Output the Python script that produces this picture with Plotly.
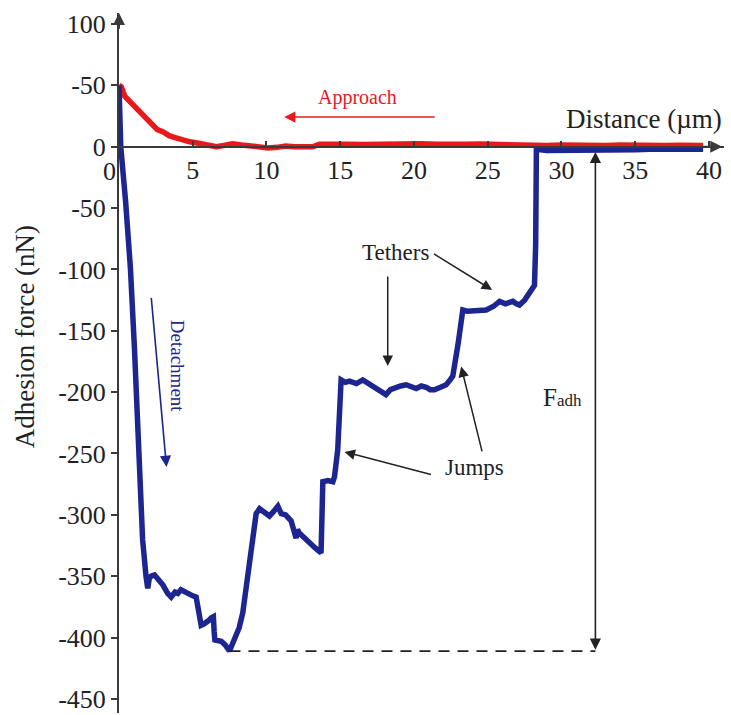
import plotly.graph_objects as go

# ---------------- data ----------------
approach_x = [0, 0.15, 0.4, 0.8, 1.2, 1.5, 1.9, 2.3, 2.6, 3.0, 3.4, 3.8, 4.3, 4.8, 5.4, 6.0, 6.6,
              7.1, 7.7, 8.3, 8.9, 9.5, 10.1, 10.7, 11.3, 11.9, 12.5, 13.1, 13.6, 14.5, 15.5, 16.5,
              17.5, 18.5, 19.5, 20.5, 21.5, 22.5, 23.5, 24.5, 25.5, 26.5, 27.5, 28.2, 29, 30, 31,
              32, 33, 34, 35, 36, 37, 38, 39, 39.6]
approach_y = [50, 49, 41, 36, 32, 28, 23, 18, 14, 12, 9, 7.5, 5.5, 4, 2.8, 1.5, 0,
              1, 2.5, 1.5, 0.5, -0.5, -1, -0.5, 0.5, 0, 0.5, 0, 2, 1.5, 2, 1.8,
              2.2, 1.5, 2, 2.5, 2, 2.5, 2, 2.2, 1.8, 2, 1.5, 0.5, 1, 1.5, 1,
              1.5, 1, 1.5, 1, 1.2, 1, 1.3, 1, 1]

detach_x = [0, 0.05, 0.12, 0.45, 0.78, 1.05, 1.3, 1.42, 1.6, 1.83, 1.95, 2.05, 2.18,
            2.41, 2.7, 2.97, 3.3, 3.54, 3.8, 3.99, 4.2, 4.33, 4.6, 4.78, 5.0, 5.23, 5.35, 5.46,
            5.57, 5.75, 5.91, 6.1, 6.25, 6.4, 6.45, 6.5, 6.93, 7.2, 7.49, 7.7, 7.95, 8.15, 8.39,
            8.8, 9.3, 9.53, 9.85, 10.2, 10.5, 10.77, 11.0, 11.3, 11.67, 11.85, 12.01, 12.1,
            12.24, 12.6, 12.92, 13.3, 13.7, 13.82, 14.16, 14.5, 14.61, 14.83, 15.06, 15.35,
            15.63, 16.1, 16.53, 16.9, 17.2, 17.6, 18.1, 18.4, 18.8, 19.1, 19.47, 19.8, 20.15,
            20.5, 20.83, 21.1, 21.39, 21.8, 22.18, 22.45, 22.63, 23.0, 23.31, 23.6, 23.99, 24.5,
            24.9, 25.4, 25.8, 26.2, 26.7, 26.95, 27.15, 27.5, 27.83, 28.17, 28.25, 28.28, 28.3,
            29, 30, 31, 32, 33, 34, 35, 36, 37, 38, 39, 39.6]
detach_y = [50, 20, 0, -45, -100, -165, -230, -270, -320, -350, -360, -352, -350,
            -349, -353, -357, -364, -367, -363, -364, -361, -362, -364, -365, -366, -367, -375,
            -381, -390, -389, -388, -386, -384, -383, -395, -402, -403, -406, -411, -404, -398,
            -392, -380, -340, -299, -295, -298, -301, -297, -293, -299, -300, -305, -312, -319,
            -312, -315, -319, -323, -327, -331, -273, -272, -273, -269, -247, -190, -192, -191,
            -193, -190, -193, -195, -198, -202, -198, -196, -195, -194, -196, -197, -195, -196,
            -198, -198, -196, -194, -190, -187, -160, -133, -134, -134, -133, -133, -130, -126,
            -128, -126, -128, -129, -125, -119, -113, -80, -60, -2, -3, -3, -2.5, -3, -3.5, -3,
            -2.5, -2, -2.5, -2, -2, -2]

x_tick_vals = [5, 10, 15, 20, 25, 30, 35, 40]
x_tick_text = ["5", "10", "15", "20", "25", "30", "35", "40"]
y_tick_vals = [100, 50, 0, -50, -100, -150, -200, -250, -300, -350, -400, -450]
y_tick_text = ["100", "-50", "0", "-50", "-100", "-150", "-200", "-250", "-300", "-350", "-400", "-450"]

f_adh_x = 32.3
f_adh_top = -3
f_adh_min = -410
min_x = 7.49
min_y = -411

# ---------------- figure ----------------
FONT = "Liberation Serif, Times New Roman, serif"
BLUE = "#1c2590"
RED = "#e8191c"
AX = "#3a3a3a"

XR = [0, 41.02]
YR = [-461.5, 109]

fig = go.Figure()
fig.add_trace(go.Scatter(x=approach_x, y=approach_y, mode="lines",
                         line=dict(color=RED, width=5.5), showlegend=False, hoverinfo="skip"))
fig.add_trace(go.Scatter(x=detach_x, y=detach_y, mode="lines",
                         line=dict(color=BLUE, width=5.5), showlegend=False, hoverinfo="skip"))

# dashed line at min force
fig.add_shape(type="line", x0=min_x, x1=f_adh_x, y0=min_y, y1=min_y, xref="x", yref="y",
              line=dict(color="#222", width=1.8, dash="11px,8px"))

ann = []

def arrow(x, y, ax, ay, color="#222", width=1.5, side="end", size=1.3):
    ann.append(dict(x=x, y=y, ax=ax, ay=ay, xref="x", yref="y", axref="x", ayref="y",
                    showarrow=True, arrowhead=2, arrowsize=size, arrowwidth=width,
                    arrowcolor=color, arrowside=side, text=""))

def text(x, y, t, size=22, color="#222", angle=0, ref="x"):
    xr, yr = ("x", "y") if ref == "x" else ("paper", "paper")
    ann.append(dict(x=x, y=y, xref=xr, yref=yr, text=t, showarrow=False,
                    font=dict(family=FONT, size=size, color=color), textangle=angle,
                    xanchor="center", yanchor="middle"))

# axis arrowheads
arrow(0, 109, 0, 95, color=AX, width=2, size=1.2)
arrow(40.9, 0, 39.5, 0, color=AX, width=2, size=1.2)

# Approach
arrow(11.2, 24.2, 21.5, 24.2, color=RED, width=1.6, size=1.4)
text(16.2, 40.5, "Approach", size=20, color=RED)

# Distance label
text(35.6, 22.6, "Distance (\u00b5m)", size=27)

# Y title (paper coordinates, left of the axis)
text(-0.155, 0.537, "Adhesion force (nN)", size=27, angle=-90, ref="paper")

# x tick "0" (shifted left of the y axis)
text(-0.0149, 0.773, "0", size=26, ref="paper")

# Detachment
arrow(3.22, -261, 2.18, -122, color=BLUE, width=1.6, size=1.4)
text(3.97, -179, "Detachment", size=19, color=BLUE, angle=90)

# Tethers
text(18.75, -85.8, "Tethers", size=23)
arrow(18.22, -178.7, 18.22, -104.5, size=1.4)
arrow(25.3, -116.7, 21.25, -86.6, size=1.4)

# Jumps
text(24.1, -261.8, "Jumps", size=23)
arrow(15.29, -248.7, 21.25, -267.5, size=1.4)
arrow(23.2, -179.2, 24.64, -249.5, size=1.4)

# F_adh
arrow(f_adh_x, f_adh_min, f_adh_x, f_adh_top, side="end+start", width=1.6, size=1.4)
text(30.07, -204, "F<span style='font-size:17px'>adh</span>", size=25)

fig.update_layout(
    width=731, height=715,
    margin=dict(l=119, r=7, t=13, b=2),
    paper_bgcolor="white", plot_bgcolor="white",
    showlegend=False,
    annotations=ann,
    font=dict(family=FONT, color="#222"),
    xaxis=dict(range=XR, anchor="free", position=(0 - YR[0]) / (YR[1] - YR[0]),
               showline=True, linecolor=AX, linewidth=2, showgrid=False, zeroline=False,
               tickvals=x_tick_vals, ticktext=x_tick_text, ticks="inside", ticklen=5,
               tickcolor=AX, tickwidth=1.5,
               tickfont=dict(family=FONT, size=26, color="#222")),
    yaxis=dict(range=YR, showline=True, linecolor=AX, linewidth=2, showgrid=False,
               zeroline=False, tickvals=y_tick_vals, ticktext=y_tick_text, ticks="outside",
               ticklen=6, tickcolor=AX, tickwidth=1.5,
               tickfont=dict(family=FONT, size=26, color="#222")),
)

fig.write_html("out.html")
